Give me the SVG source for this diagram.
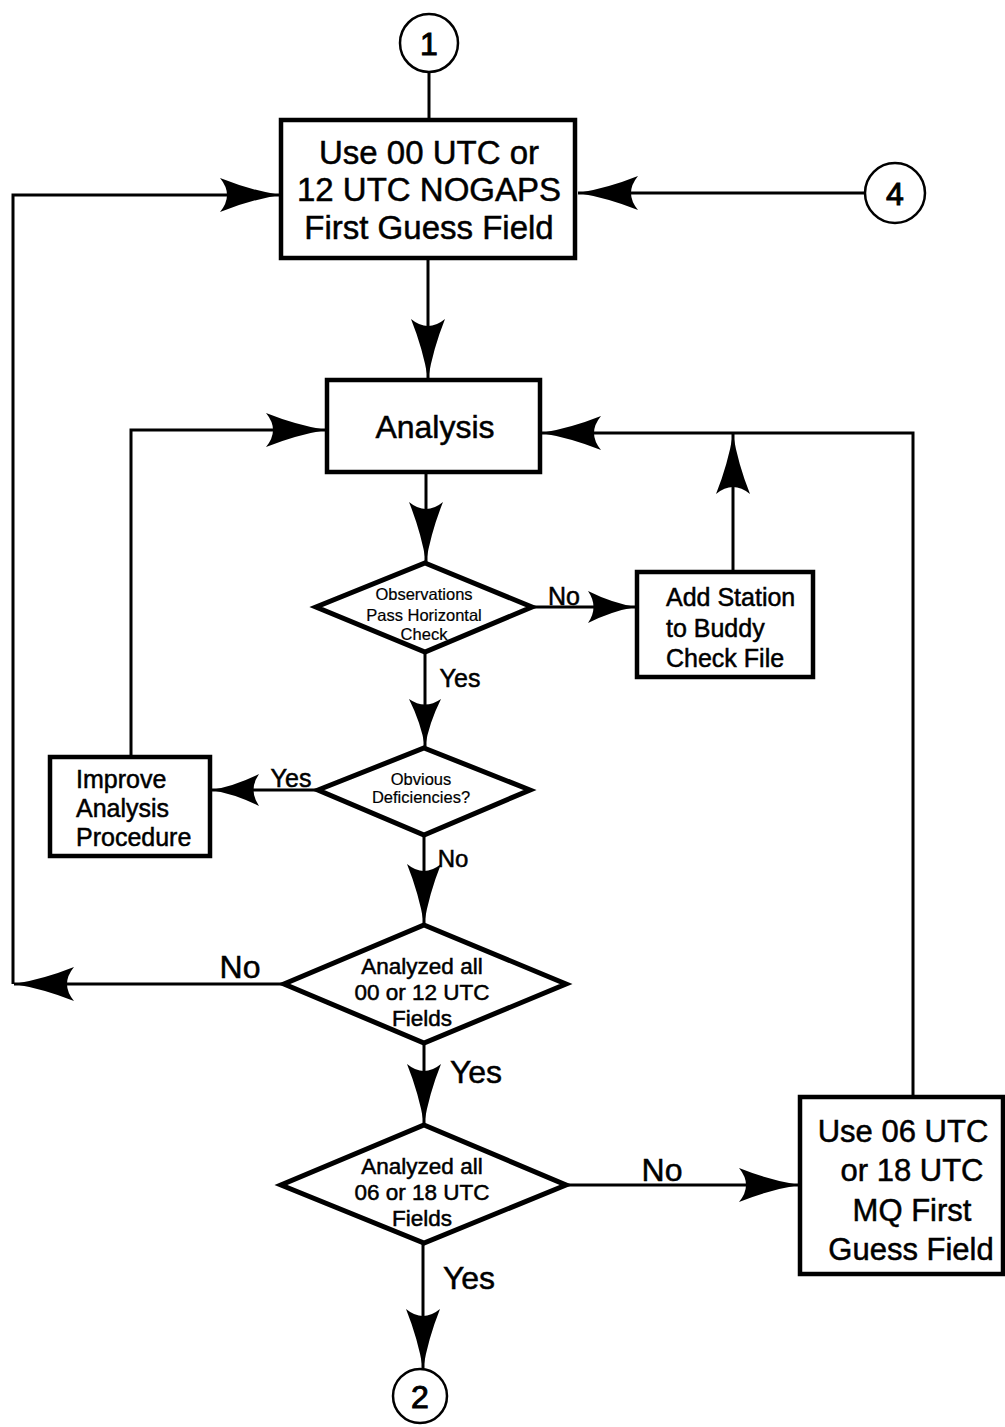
<svg xmlns="http://www.w3.org/2000/svg" width="1005" height="1427" viewBox="0 0 1005 1427">
  <style>
    text { font-family: "Liberation Sans", Arial, sans-serif; fill: #000; stroke: #000; stroke-width: 0.5; }
    .box { fill: #fff; stroke: #000; stroke-width: 4.5; }
    .dia { fill: #fff; stroke: #000; stroke-width: 5; stroke-linejoin: miter; }
    .conn { fill: none; stroke: #000; stroke-width: 3; }
    .arr { marker-end: url(#head); }
    .arrs { marker-end: url(#headS); }
    .circ { fill: #fff; stroke: #000; stroke-width: 2.5; }
    .mid { text-anchor: middle; }
    .small { stroke-width: 0.2; }
  </style>
  <defs>
    <!-- barbed arrowhead, tip at the origin -->
    <marker id="head" markerUnits="userSpaceOnUse" viewBox="-62 -19 64 38" refX="0" refY="0" markerWidth="64" markerHeight="38" orient="auto" overflow="visible">
      <path d="M0,0 Q-30,-5 -60,-17 Q-46,0 -60,17 Q-30,5 0,0 Z" fill="#000"/>
    </marker>
    <marker id="headS" markerUnits="userSpaceOnUse" viewBox="-50 -17 52 34" refX="0" refY="0" markerWidth="52" markerHeight="34" orient="auto" overflow="visible">
      <path d="M0,0 Q-24,-4 -48,-16 Q-37,0 -48,16 Q-24,4 0,0 Z" fill="#000"/>
    </marker>
  </defs>

  <!-- connectors -->
  <g id="connectors">
    <path class="conn" d="M429,72 V120"/>
    <path class="conn arr" d="M428,258 V379"/>
    <path class="conn arr" d="M865,193 H578"/>
    <path class="conn arr" d="M284,984 H14"/>
    <path class="conn arr" d="M13,984 V195 H280"/>
    <path class="conn arr" d="M426,472 V562"/>
    <path class="conn arrs" d="M532,607 H636"/>
    <path class="conn arr" d="M733,572 V434"/>
    <path class="conn arr" d="M913,1097 V433 H541"/>
    <path class="conn arrs" d="M425,652 V747"/>
    <path class="conn arrs" d="M318,790 H211"/>
    <path class="conn arr" d="M131,757 V430 H326"/>
    <path class="conn arr" d="M424,835 V924"/>
    <path class="conn arr" d="M424,1043 V1124"/>
    <path class="conn arr" d="M566,1185 H799"/>
    <path class="conn arr" d="M423,1243 V1369"/>
    <!-- branch labels -->
    <text x="564" y="605" font-size="25" class="mid">No</text>
    <text x="460" y="687" font-size="25" class="mid">Yes</text>
    <text x="291" y="787" font-size="25" class="mid">Yes</text>
    <text x="453" y="867" font-size="24" class="mid">No</text>
    <text x="240" y="978" font-size="32" class="mid">No</text>
    <text x="476" y="1083" font-size="32" class="mid">Yes</text>
    <text x="662" y="1181" font-size="32" class="mid">No</text>
    <text x="469" y="1289" font-size="32" class="mid">Yes</text>
  </g>

  <!-- connector circles -->
  <g id="c1">
    <circle class="circ" cx="429" cy="43" r="29"/>
    <text x="429" y="55" font-size="32" class="mid" style="stroke-width:1">1</text>
  </g>
  <g id="c4">
    <circle class="circ" cx="895" cy="193" r="30"/>
    <text x="895" y="205" font-size="32" class="mid" style="stroke-width:1">4</text>
  </g>
  <g id="c2">
    <circle class="circ" cx="420" cy="1396" r="27"/>
    <text x="420" y="1408" font-size="32" class="mid" style="stroke-width:1">2</text>
  </g>

  <!-- process boxes -->
  <g id="firstGuess">
    <rect class="box" x="281" y="120" width="294" height="138"/>
    <text x="429" y="164" font-size="33" class="mid">Use 00 UTC or</text>
    <text x="429" y="201" font-size="33" class="mid">12 UTC NOGAPS</text>
    <text x="429" y="239" font-size="33" class="mid">First Guess Field</text>
  </g>
  <g id="analysis">
    <rect class="box" x="327" y="380" width="213" height="92"/>
    <text x="435" y="438" font-size="32" class="mid">Analysis</text>
  </g>
  <g id="buddy">
    <rect class="box" x="637" y="572" width="176" height="105"/>
    <text x="666" y="606" font-size="25">Add Station</text>
    <text x="666" y="637" font-size="25">to Buddy</text>
    <text x="666" y="667" font-size="25">Check File</text>
  </g>
  <g id="improve">
    <rect class="box" x="50" y="757" width="160" height="99"/>
    <text x="76" y="788" font-size="25">Improve</text>
    <text x="76" y="817" font-size="25">Analysis</text>
    <text x="76" y="846" font-size="25">Procedure</text>
  </g>
  <g id="mqGuess">
    <rect class="box" x="800" y="1097" width="203" height="177"/>
    <text x="903" y="1142" font-size="31" class="mid">Use 06 UTC</text>
    <text x="912" y="1181" font-size="31" class="mid">or 18 UTC</text>
    <text x="912" y="1221" font-size="31" class="mid">MQ First</text>
    <text x="911" y="1260" font-size="31" class="mid">Guess Field</text>
  </g>

  <!-- decisions -->
  <g id="horizCheck">
    <polygon class="dia" points="425,563 532,607 425,652 316,607"/>
    <text x="424" y="600" font-size="16.5" class="mid small">Observations</text>
    <text x="424" y="621" font-size="16.5" class="mid small">Pass Horizontal</text>
    <text x="424" y="640" font-size="16.5" class="mid small">Check</text>
  </g>
  <g id="deficiencies">
    <polygon class="dia" points="424,748 530,790 424,835 318,790"/>
    <text x="421" y="785" font-size="16.5" class="mid small">Obvious</text>
    <text x="421" y="803" font-size="16.5" class="mid small">Deficiencies?</text>
  </g>
  <g id="all0012">
    <polygon class="dia" points="424,925 566,984 424,1043 284,984"/>
    <text x="422" y="974" font-size="22.5" class="mid">Analyzed all</text>
    <text x="422" y="1000" font-size="22.5" class="mid">00 or 12 UTC</text>
    <text x="422" y="1026" font-size="22.5" class="mid">Fields</text>
  </g>
  <g id="all0618">
    <polygon class="dia" points="424,1125 566,1185 424,1243 281,1185"/>
    <text x="422" y="1174" font-size="22.5" class="mid">Analyzed all</text>
    <text x="422" y="1200" font-size="22.5" class="mid">06 or 18 UTC</text>
    <text x="422" y="1226" font-size="22.5" class="mid">Fields</text>
  </g>
</svg>
